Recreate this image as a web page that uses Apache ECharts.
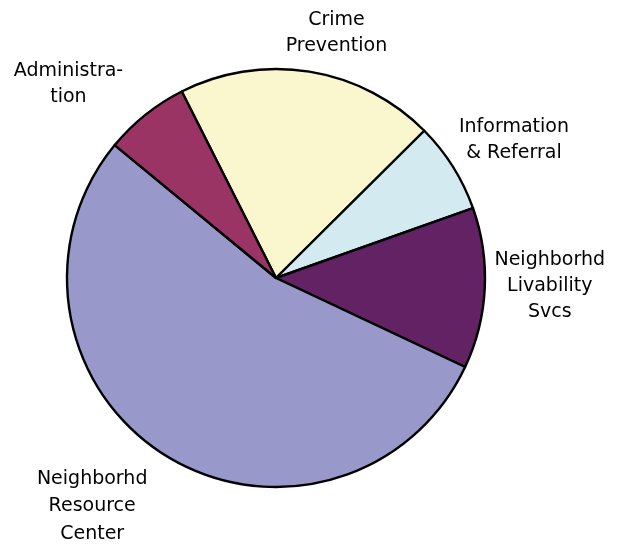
<!DOCTYPE html>
<html>
<head>
<meta charset="utf-8">
<script src="https://cdn.jsdelivr.net/npm/echarts@6/dist/echarts.min.js"></script>
<style>html,body{margin:0;padding:0;background:#fff}#c{width:622px;height:544px}</style>
</head>
<body>
<div id="c"></div>
<script>
// Data (degrees of the circle; shares of total)
var categories = ['Crime\nPrevention', 'Information\n& Referral', 'Neighborhd\nLivability\nSvcs', 'Neighborhd\nResource\nCenter', 'Administra-\ntion'];
var values = [72, 25.3, 44.7, 194.3, 23.7];
var colors = ['#FAF7CE', '#D3EBF0', '#632263', '#9898CA', '#993464'];
var labelNudges = [[27, -39], [61, -27], [65, -2], [-72, 52], [-77, -31]];
var labelLineHeights = [26, 26, 26, 27.5, 26];

var CX = 276, CY = 278, R = 209, START = 116.8;
var total = values.reduce(function (a, b) { return a + b; }, 0);
var mids = [];
(function () {
  var acc = 0;
  for (var i = 0; i < values.length; i++) {
    var a0 = START - acc / total * 360;
    acc += values[i];
    var a1 = START - acc / total * 360;
    mids.push((a0 + a1) / 2 * Math.PI / 180);
  }
})();

var chart = echarts.init(document.getElementById('c'), null, { renderer: 'canvas' });
chart.setOption({
  animation: false,
  backgroundColor: '#ffffff',
  series: [{
    type: 'pie',
    center: [CX, CY],
    radius: [0, R],
    startAngle: START,
    clockwise: true,
    avoidLabelOverlap: false,
    data: categories.map(function (c, i) {
      return {
        name: c, value: values[i],
        itemStyle: { color: colors[i] },
        label: { lineHeight: labelLineHeights[i] }
      };
    }),
    itemStyle: { borderColor: '#000000', borderWidth: 2.4 },
    label: {
      show: true,
      position: 'outside',
      formatter: '{b}',
      fontFamily: 'DejaVu Sans',
      fontSize: 19,
      color: '#000000',
      align: 'center'
    },
    labelLine: { show: false },
    labelLayout: function (p) {
      var i = p.dataIndex;
      var px = CX + R * Math.cos(mids[i]);
      var py = CY - R * Math.sin(mids[i]);
      return {
        x: px + labelNudges[i][0],
        y: py + labelNudges[i][1],
        align: 'center',
        verticalAlign: 'middle'
      };
    },
    emphasis: { disabled: true }
  }]
});
</script>
</body>
</html>
